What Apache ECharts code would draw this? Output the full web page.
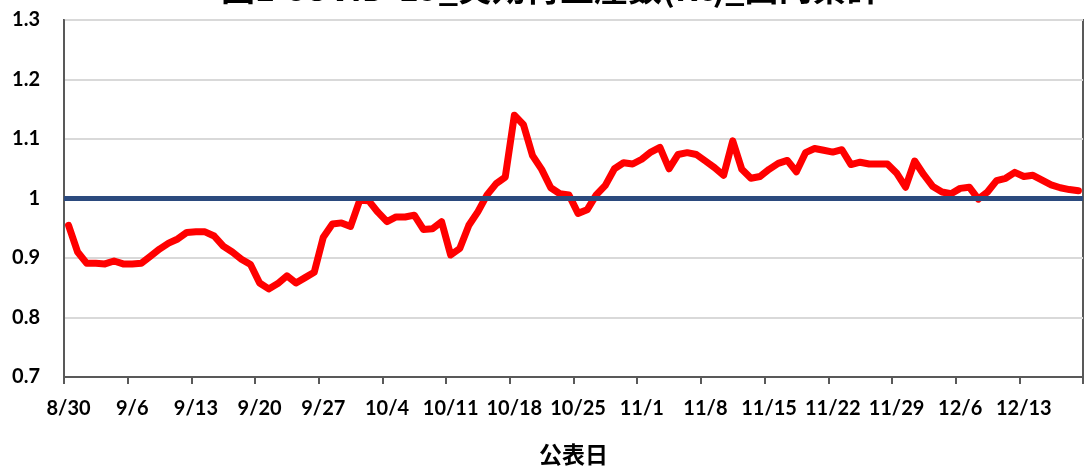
<!DOCTYPE html>
<html>
<head>
<meta charset="utf-8">
<script src="https://cdn.jsdelivr.net/npm/echarts@6/dist/echarts.min.js"></script>
<style>
html,body{margin:0;padding:0;background:#fff;}
#chart{width:1084px;height:471px;}
</style>
</head>
<body>
<div id="chart"></div>
<script>
const titleText = '図1 COVID-19_実効再生産数(Rt)_国内累計';
const xAxisName = '公表日';
const categories = [
'8/30','8/31',
'9/1','9/2','9/3','9/4','9/5','9/6','9/7','9/8','9/9','9/10','9/11','9/12','9/13','9/14','9/15','9/16','9/17','9/18','9/19','9/20','9/21','9/22','9/23','9/24','9/25','9/26','9/27','9/28','9/29','9/30',
'10/1','10/2','10/3','10/4','10/5','10/6','10/7','10/8','10/9','10/10','10/11','10/12','10/13','10/14','10/15','10/16','10/17','10/18','10/19','10/20','10/21','10/22','10/23','10/24','10/25','10/26','10/27','10/28','10/29','10/30','10/31',
'11/1','11/2','11/3','11/4','11/5','11/6','11/7','11/8','11/9','11/10','11/11','11/12','11/13','11/14','11/15','11/16','11/17','11/18','11/19','11/20','11/21','11/22','11/23','11/24','11/25','11/26','11/27','11/28','11/29','11/30',
'12/1','12/2','12/3','12/4','12/5','12/6','12/7','12/8','12/9','12/10','12/11','12/12','12/13','12/14','12/15','12/16','12/17','12/18','12/19'
];
const rValues = [
0.955,0.910,0.891,0.891,0.890,0.895,0.890,0.890,0.891,0.903,
0.915,0.925,0.932,0.943,0.944,0.944,0.937,0.920,0.910,0.898,
0.889,0.858,0.848,0.857,0.870,0.858,0.867,0.876,0.935,0.957,
0.959,0.953,0.997,0.996,0.977,0.961,0.969,0.969,0.972,0.948,
0.949,0.961,0.905,0.916,0.955,0.978,1.006,1.025,1.036,1.140,
1.124,1.072,1.049,1.018,1.008,1.006,0.975,0.981,1.006,1.022,
1.050,1.060,1.058,1.066,1.078,1.086,1.050,1.074,1.077,1.074,
1.063,1.052,1.039,1.097,1.049,1.034,1.037,1.049,1.059,1.064,
1.045,1.077,1.084,1.081,1.078,1.082,1.057,1.061,1.058,1.058,
1.058,1.043,1.019,1.063,1.040,1.020,1.011,1.008,1.017,1.019,
0.999,1.011,1.030,1.034,1.044,1.037,1.039,1.031,1.023,1.018,
1.015,1.013
];
const referenceLevel = 1;
const yMin = 0.7, yMax = 1.3, yStep = 0.1;

const chart = echarts.init(document.getElementById('chart'), null, {renderer: 'canvas'});
const numFont = 'Lato, "Noto Sans", sans-serif';
const cjkFont = '"Noto Sans CJK JP", sans-serif';
chart.setOption({
  animation: false,
  backgroundColor: '#ffffff',
  title: {
    text: titleText,
    left: 221,
    top: -29,
    padding: 0,
    textStyle: {fontFamily: cjkFont, fontWeight: 'bold', fontSize: 34, color: '#000'}
  },
  grid: {
    left: 64, right: 1, top: 20, bottom: 89,
    show: true, borderColor: '#595959', borderWidth: 2, backgroundColor: 'transparent'
  },
  xAxis: {
    type: 'category',
    data: categories,
    boundaryGap: true,
    name: xAxisName,
    nameLocation: 'middle',
    nameGap: 66,
    nameTextStyle: {fontFamily: cjkFont, fontWeight: 'bold', fontSize: 23, color: '#000'},
    axisLine: {show: true, lineStyle: {color: '#595959', width: 2}},
    axisTick: {show: true, interval: 6, length: 7, lineStyle: {color: '#595959', width: 2}},
    axisLabel: {interval: 6, margin: 22, fontFamily: numFont, fontWeight: 'bold', fontSize: 20, color: '#000'},
    splitLine: {show: false}
  },
  yAxis: {
    type: 'value',
    min: yMin, max: yMax, interval: yStep,
    axisLine: {show: true, lineStyle: {color: '#595959', width: 2}},
    axisTick: {show: false},
    axisLabel: {
      margin: 24, fontFamily: numFont, fontWeight: 'bold', fontSize: 20, color: '#000',
      formatter: v => String(+v.toFixed(1))
    },
    splitLine: {show: true, lineStyle: {color: '#D9D9D9', width: 2}}
  },
  series: [
    {
      name: 'R=1',
      type: 'line',
      data: [],
      z: 1,
      markLine: {
        silent: true,
        symbol: ['none', 'none'],
        label: {show: false},
        lineStyle: {color: '#2B4A7E', width: 5, type: 'solid'},
        data: [{yAxis: referenceLevel}]
      }
    },
    {
      name: '実効再生産数',
      type: 'line',
      data: rValues,
      z: 3,
      symbol: 'none',
      smooth: false,
      lineStyle: {color: '#FF0000', width: 7, join: 'round', cap: 'round'}
    }
  ]
});
</script>
</body>
</html>
